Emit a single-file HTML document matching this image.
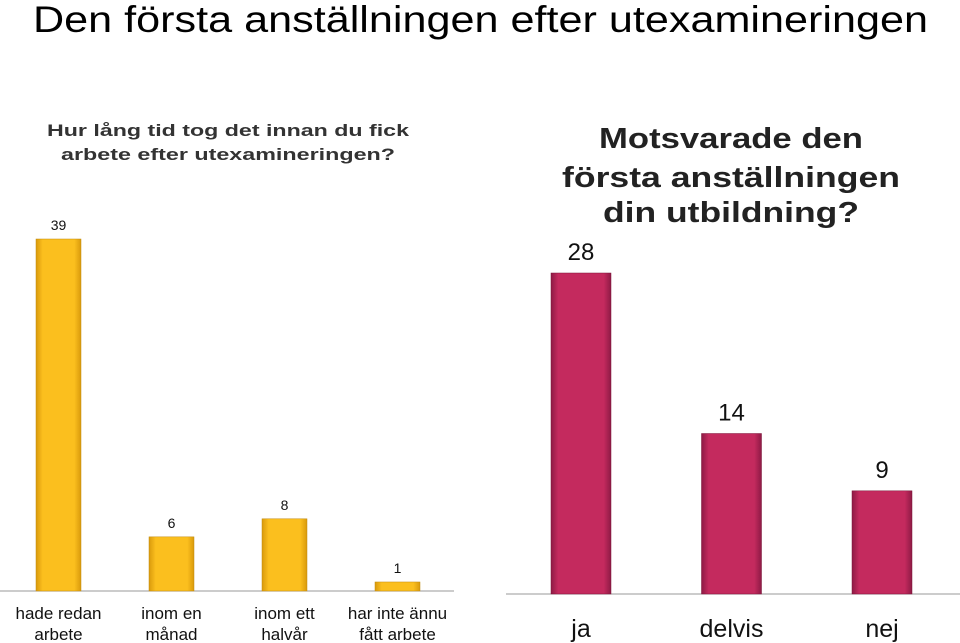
<!DOCTYPE html>
<html><head><meta charset="utf-8"><style>
body{margin:0;background:#fff;}
svg{display:block;font-family:"Liberation Sans",sans-serif;}
</style></head><body>
<svg id="c" width="960" height="643" viewBox="0 0 960 643">
<defs>
<linearGradient id="gy" x1="0" x2="1"><stop offset="0" stop-color="#d99a0c"/><stop offset="0.15" stop-color="#fbbf1e"/><stop offset="0.85" stop-color="#fbbf1e"/><stop offset="1" stop-color="#d99a0c"/></linearGradient>
<linearGradient id="gr" x1="0" x2="1"><stop offset="0" stop-color="#8e1a45"/><stop offset="0.12" stop-color="#c42a5e"/><stop offset="0.88" stop-color="#c42a5e"/><stop offset="1" stop-color="#8e1a45"/></linearGradient>
</defs>
<text x="33" y="32" font-size="37" fill="#000" textLength="895" lengthAdjust="spacingAndGlyphs">Den första anställningen efter utexamineringen</text>
<g font-weight="bold" font-size="17" fill="#333" text-anchor="middle">
<text x="228" y="136" textLength="362" lengthAdjust="spacingAndGlyphs">Hur lång tid tog det innan du fick</text>
<text x="228" y="160" textLength="334" lengthAdjust="spacingAndGlyphs">arbete efter utexamineringen?</text>
</g>
<g font-weight="bold" font-size="29" fill="#222" text-anchor="middle">
<text x="731" y="148" textLength="264" lengthAdjust="spacingAndGlyphs">Motsvarade den</text>
<text x="731" y="187" textLength="338" lengthAdjust="spacingAndGlyphs">första anställningen</text>
<text x="731" y="222" textLength="256" lengthAdjust="spacingAndGlyphs">din utbildning?</text>
</g>
<line x1="0" y1="591" x2="454" y2="591" stroke="#999"/>
<line x1="506" y1="594" x2="960" y2="594" stroke="#999"/>
<g id="left"></g><g id="right"></g>
</svg>
<script>
const leftCats=[["hade redan","arbete"],["inom en","månad"],["inom ett","halvår"],["har inte ännu","fått arbete"]];
const leftVals=[39,6,8,1];
const rightCats=["ja","delvis","nej"];
const rightVals=[28,14,9];
const NS="http://www.w3.org/2000/svg";
function mk(t,a,p){const e=document.createElementNS(NS,t);for(const k in a)e.setAttribute(k,a[k]);p.appendChild(e);return e;}
// left axis
const lBase=591,lScale=352/39,lX0=36,lStep=113,lW=45;
const ly=v=>lBase-v*lScale, lx=i=>lX0+i*lStep;
const gl=document.getElementById('left');
leftVals.forEach((v,i)=>{
 const r=mk('rect',{x:lx(i),y:ly(v),width:lW,height:lBase-ly(v),fill:'url(#gy)',stroke:'#c08a10','stroke-width':0.5},gl);
 
 
 const t=mk('text',{x:lx(i)+lW/2,y:ly(v)-9,'text-anchor':'middle','font-size':14,fill:'#111'},gl);
 t.textContent=v;
 
 
 leftCats[i].forEach((s,j)=>{
  const c=mk('text',{x:lx(i)+lW/2,y:619+j*21,'text-anchor':'middle','font-size':17,fill:'#111'},gl);
  c.textContent=s;
  
  
 });
});
// right axis
const rBase=594,rScale=321/28,rX0=551,rStep=150.5,rW=60;
const ry=v=>rBase-v*rScale, rx=i=>rX0+i*rStep;
const gr=document.getElementById('right');
rightVals.forEach((v,i)=>{
 const r=mk('rect',{x:rx(i),y:ry(v),width:rW,height:rBase-ry(v),fill:'url(#gr)',stroke:'#7a1538','stroke-width':0.5},gr);
 
 
 const t=mk('text',{x:rx(i)+rW/2,y:ry(v)-13,'text-anchor':'middle','font-size':24,fill:'#111'},gr);
 t.textContent=v;
 
 
 const c=mk('text',{x:rx(i)+rW/2,y:637,'text-anchor':'middle','font-size':25,fill:'#111'},gr);
 c.textContent=rightCats[i];
 
 
});
</script>
</body></html>
